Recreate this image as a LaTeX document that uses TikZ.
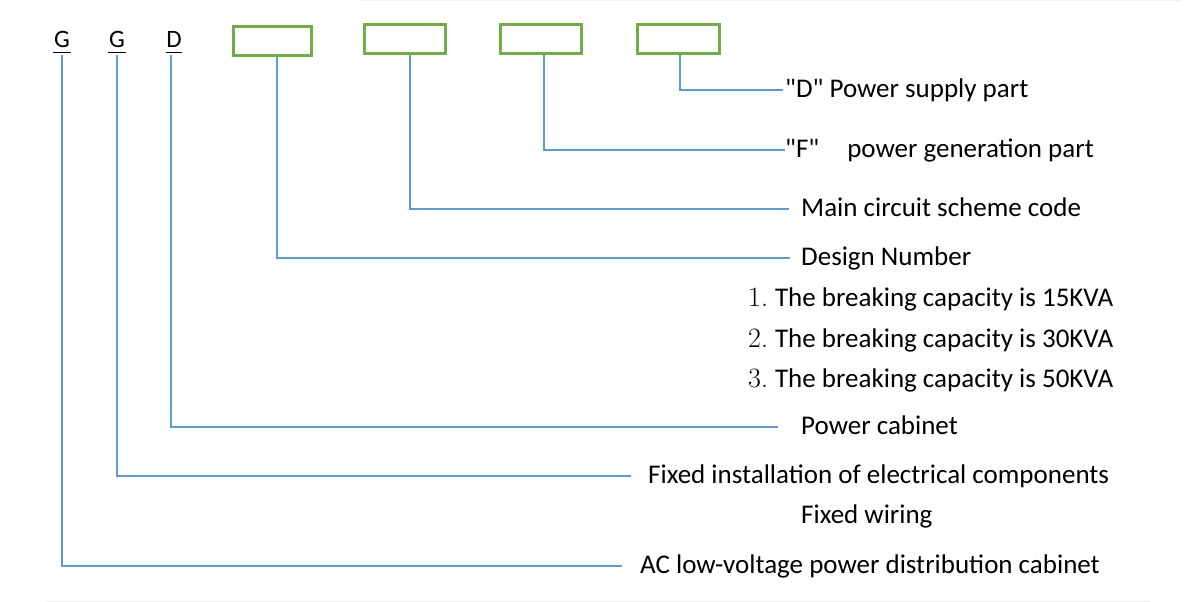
\documentclass[tikz,border=0pt]{standalone}
\usepackage{fontspec}
\newfontfamily\lbfont{Carlito}
\definecolor{boxgreen}{RGB}{112,173,71}
\definecolor{linkblue}{RGB}{91,155,213}
\begin{document}
\begin{tikzpicture}[x=1pt,y=-1pt,
  code/.style={font=\lbfont\fontsize{25}{30}\selectfont, inner sep=0pt, text depth=7pt, anchor=base},
  uline/.style={line width=1.8pt},
  slot/.style={draw=boxgreen, line width=3pt, minimum width=80pt, minimum height=29pt, inner sep=0pt},
  lbl/.style={font=\lbfont\fontsize{27}{32}\selectfont, inner xsep=0pt, inner ysep=0pt, text height=20pt, text depth=6pt, anchor=base west},
  conn/.style={draw=linkblue, line width=1.4pt}]
\useasboundingbox[fill=white] (0,0) rectangle (1200,602);
\draw[black!6, line width=1pt] (360,1) -- (1180,1);
\draw[black!6, line width=1pt] (45,601) -- (1150,601);

% code letters
\node[code] (g1) at (62,48) {G};
\node[code] (g2) at (117,48) {G};
\node[code] (d)  at (174,48) {D};
\foreach \n in {g1,g2,d}
  \draw[uline] ([xshift=-0.5pt,yshift=-4.5pt]\n.base west) -- ([xshift=0.5pt,yshift=-4.5pt]\n.base east);

% empty slots
\node[slot, minimum width=78pt] (b1) at (272.5,41) {};
\node[slot, minimum width=81pt] (b2) at (405,39.5) {};
\node[slot, minimum width=81pt] (b3) at (541,39) {};
\node[slot, minimum width=82pt] (b4) at (678.5,39) {};

% labels
\node[lbl] (l4) at (785,97) {"D" Power supply part};
\node[lbl] (l3) at (785,157) {"F"\hspace{28pt}power generation part};
\node[lbl] (l2) at (801,216) {Main circuit scheme code};
\node[lbl] (l1) at (801,265) {Design Number};
\node[lbl] (n1) at (748,306) {{\rmfamily\fontsize{28}{32}\selectfont 1.}\hspace{7pt}The breaking capacity is 15KVA};
\node[lbl] (n2) at (748,347) {{\rmfamily\fontsize{28}{32}\selectfont 2.}\hspace{7pt}The breaking capacity is 30KVA};
\node[lbl] (n3) at (748,387) {{\rmfamily\fontsize{28}{32}\selectfont 3.}\hspace{7pt}The breaking capacity is 50KVA};
\node[lbl] (ld) at (801,434) {Power cabinet};
\node[lbl] (lg2) at (648,483) {Fixed installation of electrical components};
\node[lbl] (lw) at (801,523) {Fixed wiring};
\node[lbl] (lg1) at (640,573) {AC low-voltage power distribution cabinet};

% connectors
\draw[conn] ([xshift=1.5pt]b4.south) |- ([xshift=-2pt]l4.west);
\draw[conn] ([xshift=3pt]b3.south) |- ([xshift=0pt]l3.west);
\draw[conn] ([xshift=5pt]b2.south) |- ([xshift=-12pt]l2.west);
\draw[conn] ([xshift=4.5pt]b1.south) |- ([xshift=-11pt]l1.west);
\draw[conn] ([xshift=-3pt]d.south) |- ([xshift=-23pt]ld.west);
\draw[conn] (g2.south) |- ([xshift=-17pt]lg2.west);
\draw[conn] (g1.south) |- ([xshift=-18pt]lg1.west);
\end{tikzpicture}
\end{document}
